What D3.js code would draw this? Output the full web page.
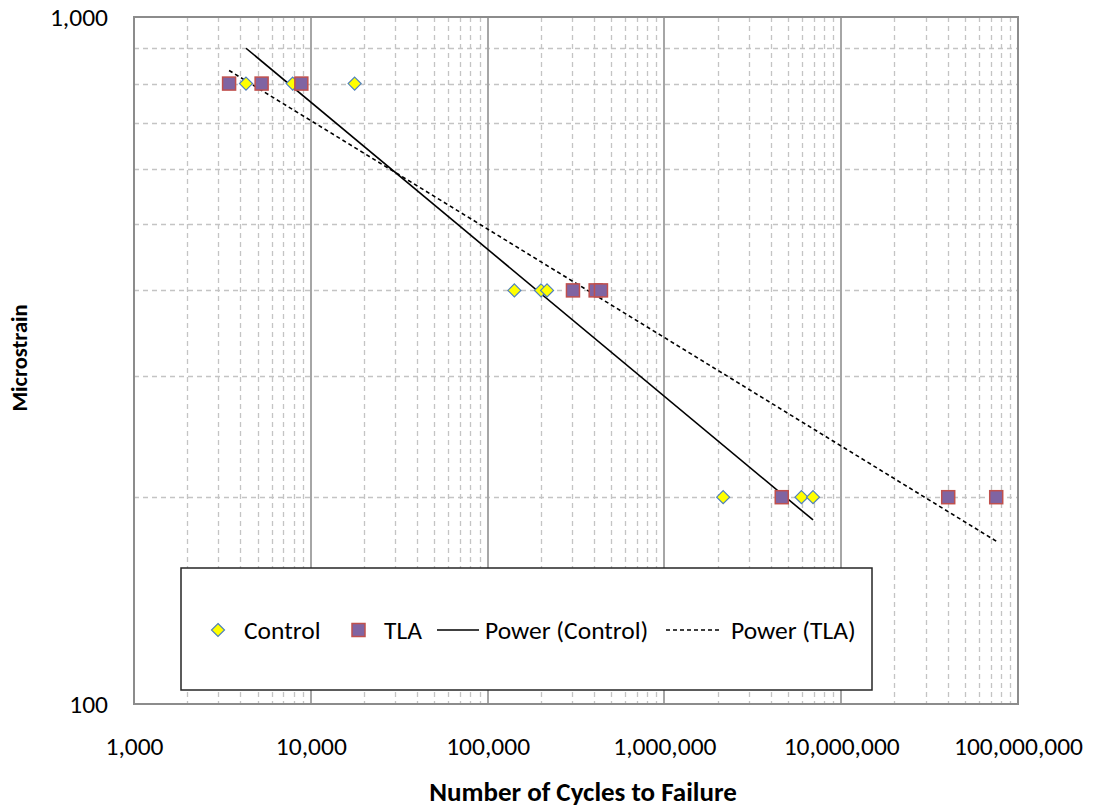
<!DOCTYPE html>
<html>
<head>
<meta charset="utf-8">
<script src="https://cdn.jsdelivr.net/npm/d3@7"></script>
<style>
  html, body { margin: 0; padding: 0; background: #fff; }
  svg { display: block; font-family: Carlito, Calibri, Lato, sans-serif; }
</style>
</head>
<body>
<svg id="chart" width="1093" height="807"></svg>
<script>
// Fatigue test results: strain level vs. cycles to failure
const controlCycles = [4300, 7900, 17700, 141700, 200600, 216900, 2150000, 5960000, 6930000];
const controlStrain = [800, 800, 800, 400, 400, 400, 200, 200, 200];
const tlaCycles = [3450, 5270, 8840, 304000, 408500, 437700, 4610000, 40300000, 75300000];
const tlaStrain = [800, 800, 800, 400, 400, 400, 200, 200, 200];

const xTickValues = [1e3, 1e4, 1e5, 1e6, 1e7, 1e8];
const yTickValues = [100, 1000];
const legendLabels = ["Control", "TLA", "Power (Control)", "Power (TLA)"];

const svg = d3.select("#chart");
const plot = { left: 134, right: 1018, top: 17, bottom: 704 };
const FONT = "Carlito, Calibri, Lato, sans-serif";

const x = d3.scaleLog().domain([1e3, 1e8]).range([plot.left, plot.right]);
const y = d3.scaleLog().domain([100, 1000]).range([plot.bottom, plot.top]);
const fmt = d3.format(",");

// Minor gridlines (2..9 within each decade)
const xMinor = [];
for (let d = 3; d < 8; d++) for (let m = 2; m <= 9; m++) xMinor.push(m * Math.pow(10, d));
const yMinor = [];
for (let m = 2; m <= 9; m++) yMinor.push(m * 100);

const grid = svg.append("g");
grid.selectAll("line.xminor").data(xMinor).join("line")
  .attr("x1", d => Math.round(x(d)) + 0.5).attr("x2", d => Math.round(x(d)) + 0.5)
  .attr("y1", plot.top).attr("y2", plot.bottom)
  .attr("stroke", "#c4c4c4").attr("stroke-width", 1.3).attr("stroke-dasharray", "5,4");
grid.selectAll("line.yminor").data(yMinor).join("line")
  .attr("y1", d => Math.round(y(d)) + 0.5).attr("y2", d => Math.round(y(d)) + 0.5)
  .attr("x1", plot.left).attr("x2", plot.right)
  .attr("stroke", "#c4c4c4").attr("stroke-width", 1.3).attr("stroke-dasharray", "5,4");
grid.selectAll("line.xmajor").data(xTickValues.slice(1, -1)).join("line")
  .attr("x1", d => Math.round(x(d))).attr("x2", d => Math.round(x(d)))
  .attr("y1", plot.top).attr("y2", plot.bottom)
  .attr("stroke", "#a6a6a6").attr("stroke-width", 2);

// Plot frame
svg.append("rect")
  .attr("x", plot.left).attr("y", plot.top)
  .attr("width", plot.right - plot.left).attr("height", plot.bottom - plot.top)
  .attr("fill", "none").attr("stroke", "#8c8c8c").attr("stroke-width", 2);

// Axes (labels only; frame and grid drawn above)
const xAxis = svg.append("g")
  .attr("transform", `translate(0,${plot.bottom})`)
  .call(d3.axisBottom(x).tickValues(xTickValues).tickFormat(fmt).tickSize(0));
xAxis.select(".domain").remove();
xAxis.selectAll("text")
  .attr("y", 51).attr("dy", 0)
  .attr("font-size", 25.5).attr("fill", "#000").style("font-family", FONT);

const yAxis = svg.append("g")
  .attr("transform", `translate(${plot.left},0)`)
  .call(d3.axisLeft(y).tickValues(yTickValues).tickFormat(fmt).tickSize(0).tickPadding(26));
yAxis.select(".domain").remove();
yAxis.selectAll("text")
  .attr("dy", "0.33em")
  .attr("font-size", 25.5).attr("fill", "#000").style("font-family", FONT);

// Axis titles
svg.append("text")
  .attr("x", 583).attr("y", 801).attr("text-anchor", "middle")
  .attr("font-size", 27).attr("font-weight", "bold").text("Number of Cycles to Failure");
svg.append("text")
  .attr("transform", "translate(27,358) rotate(-90)").attr("text-anchor", "middle")
  .attr("font-size", 22.5).attr("font-weight", "bold").text("Microstrain");

// Power-law trendlines: least squares fit in log-log space, drawn over the data range
function powerFit(xs, ys) {
  const lx = xs.map(Math.log10), ly = ys.map(Math.log10);
  const mx = d3.mean(lx), my = d3.mean(ly);
  const b = d3.sum(lx, (v, i) => (v - mx) * (ly[i] - my)) / d3.sum(lx, v => (v - mx) * (v - mx));
  const a = my - b * mx;
  const f = v => Math.pow(10, a + b * Math.log10(v));
  const x0 = d3.min(xs), x1 = d3.max(xs);
  return [[x0, f(x0)], [x1, f(x1)]];
}
const line = d3.line().x(d => x(d[0])).y(d => y(d[1]));

svg.append("path").datum(powerFit(controlCycles, controlStrain))
  .attr("d", line).attr("fill", "none").attr("stroke", "#000").attr("stroke-width", 1.6);
svg.append("path").datum(powerFit(tlaCycles, tlaStrain))
  .attr("d", line).attr("fill", "none").attr("stroke", "#000").attr("stroke-width", 1.6)
  .attr("stroke-dasharray", "4,3");

// Markers
const diamond = s => `M0,${-s}L${s},0L0,${s}L${-s},0Z`;
const controlPts = controlCycles.map((c, i) => [c, controlStrain[i]]);
const tlaPts = tlaCycles.map((c, i) => [c, tlaStrain[i]]);

svg.append("g").selectAll("path").data(controlPts).join("path")
  .attr("transform", d => `translate(${x(d[0])},${y(d[1])})`)
  .attr("d", diamond(6.5)).attr("fill", "#ffff00").attr("stroke", "#4f81bd").attr("stroke-width", 1.2);

svg.append("g").selectAll("rect").data(tlaPts).join("rect")
  .attr("x", d => x(d[0]) - 6.5).attr("y", d => y(d[1]) - 6.5)
  .attr("width", 13).attr("height", 13)
  .attr("fill", "#8064a2").attr("stroke", "#c0504d").attr("stroke-width", 1.5);

// Legend
const lg = svg.append("g");
lg.append("rect").attr("x", 181).attr("y", 568).attr("width", 691).attr("height", 122)
  .attr("fill", "#fff").attr("stroke", "#262626").attr("stroke-width", 1.5);
const ly = 630;
lg.append("path").attr("transform", `translate(218,${ly})`).attr("d", diamond(6.5))
  .attr("fill", "#ffff00").attr("stroke", "#4f81bd").attr("stroke-width", 1.2);
lg.append("rect").attr("x", 352).attr("y", ly - 6.5).attr("width", 13).attr("height", 13)
  .attr("fill", "#8064a2").attr("stroke", "#c0504d").attr("stroke-width", 1.5);
lg.append("line").attr("x1", 437).attr("x2", 479).attr("y1", ly).attr("y2", ly)
  .attr("stroke", "#000").attr("stroke-width", 1.6);
lg.append("line").attr("x1", 666).attr("x2", 722).attr("y1", ly).attr("y2", ly)
  .attr("stroke", "#000").attr("stroke-width", 1.6).attr("stroke-dasharray", "4,3");
const labelX = [244, 384, 485, 731];
lg.selectAll("text").data(legendLabels).join("text")
  .attr("x", (d, i) => labelX[i]).attr("y", ly + 9)
  .attr("font-size", 25.5).attr("fill", "#000").text(d => d);
</script>
</body>
</html>
